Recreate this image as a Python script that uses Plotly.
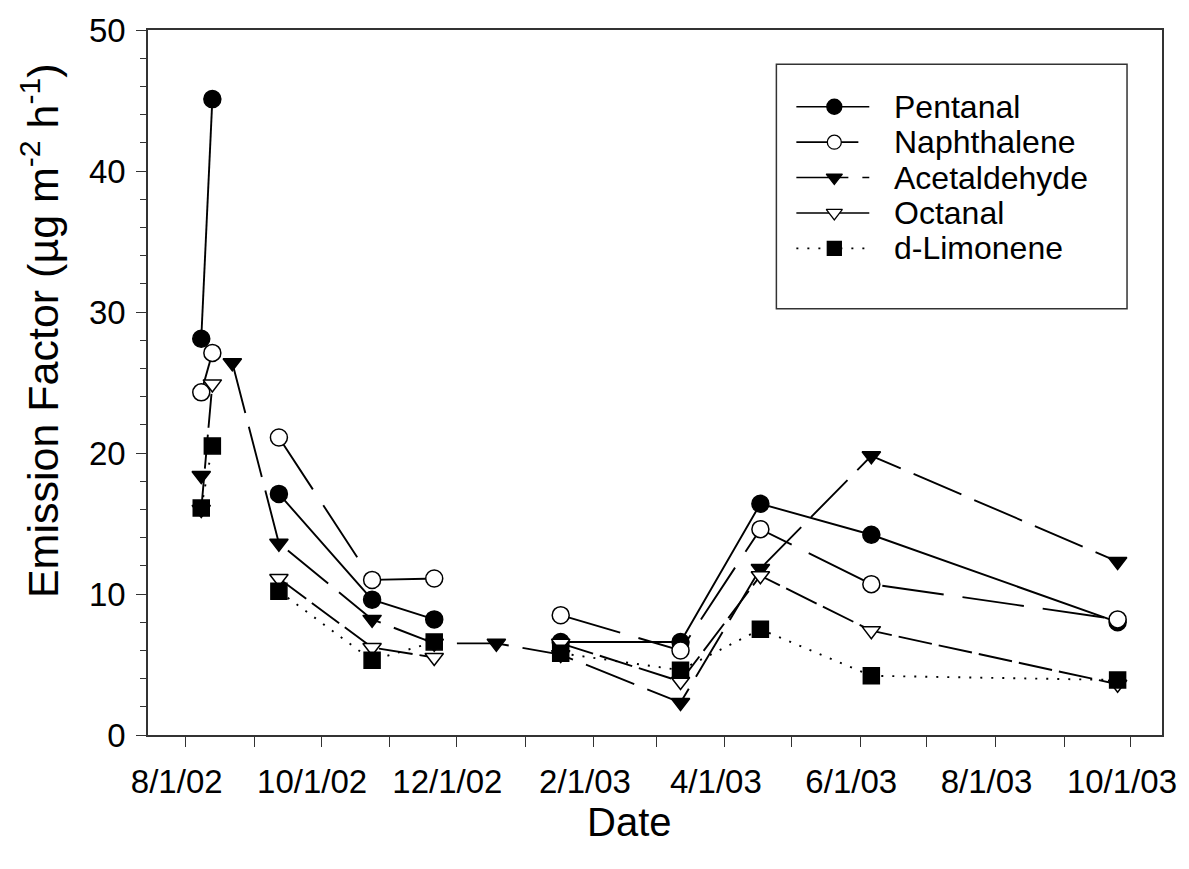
import plotly.graph_objects as go

# Sampling dates (one column per campaign visit)
dates = ["2002-08-08", "2002-08-13", "2002-08-22", "2002-09-12", "2002-10-24",
         "2002-11-21", "2002-12-19", "2003-01-17", "2003-03-12", "2003-04-17",
         "2003-06-06", "2003-09-25"]

# Emission factors (µg m-2 h-1); None = not measured on that date
pentanal = [28.1, 45.1, None, 17.1, 9.6, 8.2, None, 6.6, 6.6, 16.4, 14.2, 8.0]
naphthalene = [24.3, 27.1, None, 21.1, 11.0, 11.1, None, 8.5, 6.0, 14.6, 10.7, 8.2]
acetaldehyde = [18.4, None, 26.4, 13.6, 8.2, 6.5, 6.5, 5.7, 2.3, 11.8, 19.8, 12.3]
octanal = [16.0, 24.9, None, 11.1, 6.2, 5.5, None, 6.5, 3.8, 11.3, 7.4, 3.6]
limonene = [16.1, 20.5, None, 10.2, 5.3, 6.6, None, 5.8, 4.6, 7.5, 4.2, 3.9]

names = ["Pentanal", "Naphthalene", "Acetaldehyde", "Octanal", "d-Limonene"]
values = [pentanal, naphthalene, acetaldehyde, octanal, limonene]

FONT = "Arial, 'Liberation Sans', sans-serif"
INK = "black"

# symbol, fill, marker size, dash pattern
styles = [
    ("circle", INK, 17, "solid"),
    ("circle", "white", 17, "62px,19px"),
    ("triangle-down", INK, 16, "52px,14px"),
    ("triangle-down", "white", 16, "34px,7px"),
    ("square", INK, 16, "2px,9px"),
]

fig = go.Figure()

for name, vals, (sym, fill, size, dash) in zip(names, values, styles):
    fig.add_trace(go.Scatter(
        x=dates, y=vals, name=name, mode="lines+markers",
        connectgaps=False, showlegend=False, cliponaxis=False,
        line=dict(color=INK, width=1.9, dash=dash),
        marker=dict(symbol=sym, size=size, color=fill, opacity=1,
                    line=dict(color=INK, width=1.5)),
    ))

# Key box drawn on a pixel-scaled overlay (x: px from plot left, y: px from plot top)
PLOT_W, PLOT_H = 1015, 712
key_x0, key_xm, key_x1 = 649, 687, 722
key_text_x = 745
key_y0, key_dy = 77.5, 35.75
key_sizes = [15, 14, 14, 14, 14]

for i, (name, (sym, fill, size, dash)) in enumerate(zip(names, styles)):
    yy = key_y0 + i * key_dy
    fig.add_trace(go.Scatter(
        x=[key_x0, key_xm, key_x1], y=[yy, yy, yy], xaxis="x2", yaxis="y2",
        mode="lines+markers", showlegend=False, hoverinfo="skip",
        line=dict(color=INK, width=1.6, dash=dash),
        marker=dict(symbol=sym, size=[0, key_sizes[i], 0], color=fill, opacity=1,
                    line=dict(color=INK, width=1.3)),
    ))
    fig.add_annotation(
        x=key_text_x, y=yy, xref="x2", yref="y2", text=name, showarrow=False,
        xanchor="left", yanchor="middle", font=dict(family=FONT, size=32, color=INK),
    )

fig.add_shape(type="rect", xref="x2", yref="y2", x0=629, x1=980, y0=34.5, y1=281.5,
              line=dict(color="#333333", width=1.5))

axis_line = dict(showline=True, linecolor="#333333", linewidth=1.5, mirror=True,
                 showgrid=False, zeroline=False)

fig.update_layout(
    width=1189, height=869,
    margin=dict(l=148, r=26, t=23, b=134),
    paper_bgcolor="white", plot_bgcolor="white",
    font=dict(family=FONT, color=INK),
    xaxis=dict(
        type="date", range=["2002-07-15", "2003-10-15"],
        tick0="2002-08-01", dtick="M2", tickformat="%-m/%-d/%y",
        ticks="outside", ticklen=10, tickwidth=1.2, tickcolor="#333333",
        tickfont=dict(family=FONT, size=33, color=INK),
        ticklabelshift=-9, ticklabelstandoff=7,
        minor=dict(dtick="M1", ticks="outside", ticklen=10, tickwidth=1.2,
                   tickcolor="#333333"),
        **axis_line,
    ),
    yaxis=dict(
        range=[0, 50], tick0=0, dtick=10,
        ticks="outside", ticklen=10, tickwidth=1.2, tickcolor="#333333",
        tickfont=dict(family=FONT, size=33, color=INK),
        ticklabelstandoff=4,
        minor=dict(dtick=2, ticks="outside", ticklen=6, tickwidth=1.2,
                   tickcolor="#333333"),
        **axis_line,
    ),
    xaxis2=dict(overlaying="x", range=[0, PLOT_W], visible=False, fixedrange=True),
    yaxis2=dict(overlaying="y", range=[PLOT_H, 0], visible=False, fixedrange=True),
)

# Axis titles
fig.add_annotation(
    x=(630 - 148) / PLOT_W, y=(735 - 823) / PLOT_H, xref="paper", yref="paper",
    text="Date", showarrow=False, xanchor="center", yanchor="middle",
    font=dict(family=FONT, size=40, color=INK),
)
fig.add_annotation(
    x=(40 - 148) / PLOT_W, y=(735 - 327) / PLOT_H, xref="paper", yref="paper",
    text="Emission Factor (µg m<sup>-2</sup> h<sup>-1</sup>)", textangle=-90,
    showarrow=False, xanchor="center", yanchor="middle",
    font=dict(family=FONT, size=43, color=INK),
)

fig.write_html("out.html")
